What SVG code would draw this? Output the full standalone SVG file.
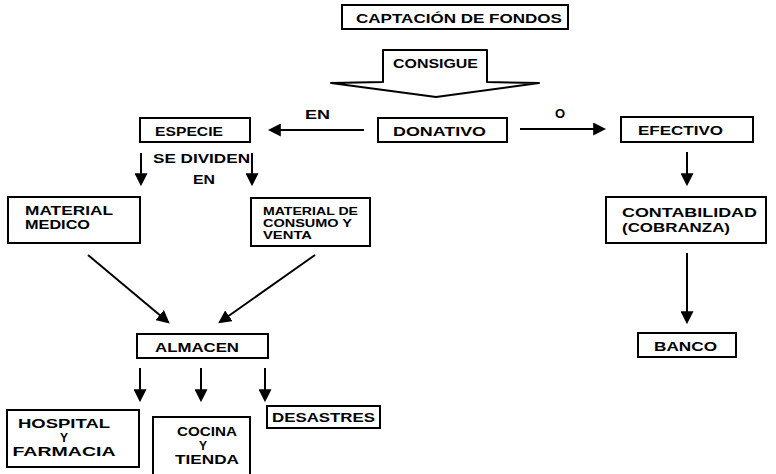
<svg xmlns="http://www.w3.org/2000/svg" width="776" height="474" viewBox="0 0 776 474">
<defs>
<style>
.box{fill:#fff;stroke:#000;stroke-width:2}
.t{font-family:"Liberation Sans",Arial,sans-serif;font-weight:bold;font-size:13px;fill:#000}
.m{font-size:12px}
.s{font-size:10px}
.c{text-anchor:middle}
.ln{stroke:#000;stroke-width:2;fill:none;marker-end:url(#ah)}
</style>
<marker id="ah" viewBox="0 0 12 12" markerUnits="userSpaceOnUse" markerWidth="13" markerHeight="13" refX="10" refY="6" orient="auto">
<path d="M0,0 L12,6 L0,12 Z" fill="#000"/>
</marker>
</defs>
<rect width="776" height="474" fill="#fff"/>

<g id="captacion">
<rect class="box" x="342" y="5" width="226" height="24"/>
<text class="t" x="356" y="23" font-size="14" textLength="206" lengthAdjust="spacingAndGlyphs">CAPTACIÓN DE FONDOS</text>
</g>

<g id="consigue">
<path d="M383,82 L383,50 L487,50 L487,82 L539,83 L436,97 L331,83 Z" fill="#fff" stroke="#000" stroke-width="2" stroke-linejoin="round"/>
<text class="t" x="393" y="68" font-size="14" textLength="85" lengthAdjust="spacingAndGlyphs">CONSIGUE</text>
</g>

<g id="donativo">
<rect class="box" x="378" y="118" width="129" height="24"/>
<text class="t" x="393" y="136" textLength="93" lengthAdjust="spacingAndGlyphs">DONATIVO</text>
</g>

<g id="especie">
<rect class="box" x="140" y="118" width="110" height="24"/>
<text class="t" x="155" y="136" textLength="68" lengthAdjust="spacingAndGlyphs">ESPECIE</text>
</g>

<g id="efectivo">
<rect class="box" x="621" y="117" width="132" height="25"/>
<text class="t" x="638" y="135" textLength="85" lengthAdjust="spacingAndGlyphs">EFECTIVO</text>
</g>

<g id="material-medico">
<rect class="box" x="8" y="197" width="132" height="46"/>
<text class="t m" x="25" y="215" textLength="88" lengthAdjust="spacingAndGlyphs">MATERIAL</text>
<text class="t m" x="25" y="229" textLength="65" lengthAdjust="spacingAndGlyphs">MEDICO</text>
</g>

<g id="material-consumo">
<rect class="box" x="251" y="198" width="119" height="48"/>
<text class="t s" x="263" y="215" textLength="95" lengthAdjust="spacingAndGlyphs">MATERIAL DE</text>
<text class="t s" x="263" y="227" textLength="89" lengthAdjust="spacingAndGlyphs">CONSUMO Y</text>
<text class="t s" x="263" y="239" textLength="49" lengthAdjust="spacingAndGlyphs">VENTA</text>
</g>

<g id="contabilidad">
<rect class="box" x="606" y="197" width="160" height="46"/>
<text class="t" x="622" y="217" textLength="135" lengthAdjust="spacingAndGlyphs">CONTABILIDAD</text>
<text class="t" x="622" y="232" textLength="108" lengthAdjust="spacingAndGlyphs">(COBRANZA)</text>
</g>

<g id="almacen">
<rect class="box" x="137" y="334" width="131" height="24"/>
<text class="t" x="155" y="352" textLength="84" lengthAdjust="spacingAndGlyphs">ALMACEN</text>
</g>

<g id="banco">
<rect class="box" x="638" y="333" width="98" height="24"/>
<text class="t" x="654" y="351" textLength="63" lengthAdjust="spacingAndGlyphs">BANCO</text>
</g>

<g id="hospital">
<rect class="box" x="7" y="410" width="132" height="57"/>
<text class="t m c" x="64" y="428" textLength="92" lengthAdjust="spacingAndGlyphs">HOSPITAL</text>
<text class="t m c" x="64" y="442">Y</text>
<text class="t m c" x="64" y="456" textLength="103" lengthAdjust="spacingAndGlyphs">FARMACIA</text>
</g>

<g id="cocina">
<rect class="box" x="153" y="417" width="97" height="60"/>
<text class="t m c" x="207" y="436" textLength="60" lengthAdjust="spacingAndGlyphs">COCINA</text>
<text class="t m c" x="203" y="450">Y</text>
<text class="t m c" x="207" y="464" textLength="64" lengthAdjust="spacingAndGlyphs">TIENDA</text>
</g>

<g id="desastres">
<rect class="box" x="267" y="406" width="113" height="22"/>
<text class="t" x="272" y="422" textLength="103" lengthAdjust="spacingAndGlyphs">DESASTRES</text>
</g>

<g id="connectors">
<line class="ln" x1="364" y1="130" x2="270" y2="130"/>
<line class="ln" x1="520" y1="129" x2="604" y2="129"/>
<line class="ln" x1="141" y1="153" x2="141" y2="184"/>
<line class="ln" x1="252" y1="153" x2="252" y2="184"/>
<line class="ln" x1="687" y1="152" x2="687" y2="184"/>
<line class="ln" x1="687" y1="253" x2="687" y2="322"/>
<line class="ln" x1="88" y1="255" x2="168" y2="322"/>
<line class="ln" x1="315" y1="255" x2="220" y2="322"/>
<line class="ln" x1="140" y1="368" x2="140" y2="400"/>
<line class="ln" x1="201" y1="368" x2="201" y2="400"/>
<line class="ln" x1="265" y1="368" x2="265" y2="400"/>
<text class="t" x="305" y="119" textLength="25" lengthAdjust="spacingAndGlyphs">EN</text>
<text class="t" x="555" y="118">O</text>
<text class="t" x="153" y="163" textLength="97" lengthAdjust="spacingAndGlyphs">SE DIVIDEN</text>
<text class="t" x="193" y="184" textLength="22" lengthAdjust="spacingAndGlyphs">EN</text>
</g>
</svg>
